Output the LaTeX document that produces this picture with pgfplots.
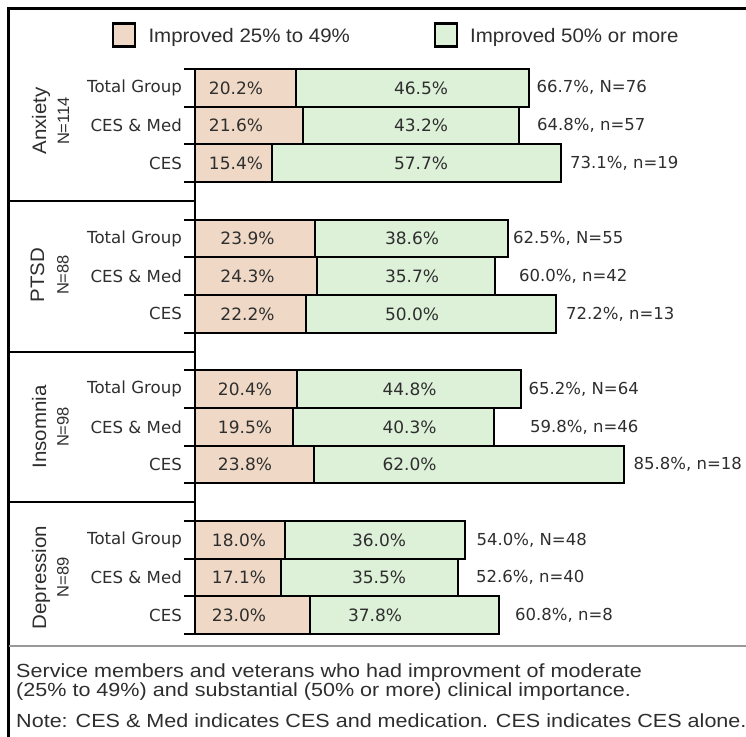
\documentclass[border=0pt]{standalone}
\usepackage{pgfplots}
\pgfplotsset{compat=1.18}
\usepackage{pgfplotstable}
\usepackage{fontspec}
\setmainfont{Liberation Sans}
\newfontfamily\chartfont{DejaVu Sans}
\newfontfamily\capfont[FakeStretch=1.135]{Liberation Sans}
\newfontfamily\legfont[FakeStretch=1.05]{Liberation Sans}
\definecolor{tanc}{HTML}{EFD9C6}
\definecolor{greenc}{HTML}{DDF0D8}
\definecolor{txt}{HTML}{2E2E2E}

% y: bar index (gaps at 3, 7, 11); a: improved 25-49%; b: improved 50%+; tot = a+b
% xa, xb: label positions (percent units)
\pgfplotstableread{
y a b tot xa xb
0 20.2 46.5 66.7 8.2 45.2
1 21.6 43.2 64.8 8.2 45.2
2 15.4 57.7 73.1 8.2 45.2
4 23.9 38.6 62.5 10.5 43.4
5 24.3 35.7 60.0 10.5 43.4
6 22.2 50.0 72.2 10.5 43.4
8 20.4 44.8 65.2 10.0 42.9
9 19.5 40.3 59.8 10.0 42.9
10 23.8 62.0 85.8 10.0 42.9
12 18.0 36.0 54.0 8.8 36.8
13 17.1 35.5 52.6 8.8 36.8
14 23.0 37.8 60.8 8.8 36.0
}\bars

\pgfplotstableread[col sep=semicolon]{
y;xt;lab
0;68.3;66.7\%, N=76
1;68.4;64.8\%, n=57
2;75.0;73.1\%, n=19
4;63.6;62.5\%, N=55
5;64.8;60.0\%, n=42
6;74.2;72.2\%, n=13
8;66.7;65.2\%, N=64
9;67.0;59.8\%, n=46
10;87.7;85.8\%, n=18
12;56.3;54.0\%, N=48
13;56.2;52.6\%, n=40
14;64.0;60.8\%, n=8
}\totlab

\begin{document}
\begin{tikzpicture}[x=1pt,y=1pt]
\begin{axis}[
  at={(195pt,102pt)}, anchor=south west,
  scale only axis, width=500pt, height=565pt,
  xmin=0, xmax=100, ymin=-0.5, ymax=14.5, y dir=reverse,
  clip=false,
  /pgf/number format/assume math mode=true,
  axis x line=none, axis y line*=left,
  y axis line style={line width=2pt, black},
  xtick=\empty,
  ytick={0,1,2,4,5,6,8,9,10,12,13,14},
  yticklabels={Total Group,CES \& Med,CES,Total Group,CES \& Med,CES,Total Group,CES \& Med,CES,Total Group,CES \& Med,CES},
  yticklabel style={font=\chartfont\fontsize{16.6}{20}\selectfont, text=txt, inner sep=0pt, xshift=-13pt},
  major tick length=0pt,
  extra y ticks={-0.5,0.5,...,14.5},
  extra y tick labels={},
  extra y tick style={tick align=outside, major tick length=11pt, tick style={line width=2pt, black}},
  bar width=37.67pt,
  every node near coord/.append style={font=\chartfont\fontsize{17}{20}\selectfont, text=txt},
]
\addplot[xbar, bar shift=0pt, fill=greenc, draw=black, line width=2pt] table[x=tot, y=y] {\bars};
\addplot[xbar, bar shift=0pt, fill=tanc, draw=black, line width=2pt] table[x=a, y=y] {\bars};
\addplot[only marks, mark=*, mark size=0pt, mark options={draw=none, fill=none},
  point meta=explicit,
  nodes near coords={\pgfmathprintnumber[fixed,fixed zerofill,precision=1]{\pgfplotspointmeta}\%},
  nodes near coords style={anchor=center}]
  table[x=xa, y=y, meta=a] {\bars};
\addplot[only marks, mark=*, mark size=0pt, mark options={draw=none, fill=none},
  point meta=explicit,
  nodes near coords={\pgfmathprintnumber[fixed,fixed zerofill,precision=1]{\pgfplotspointmeta}\%},
  nodes near coords style={anchor=center}]
  table[x=xb, y=y, meta=b] {\bars};
\addplot[only marks, mark=*, mark size=0pt, mark options={draw=none, fill=none},
  point meta=explicit symbolic,
  nodes near coords,
  nodes near coords style={anchor=west, inner sep=0pt, font=\chartfont\fontsize{16.5}{20}\selectfont}]
  table[x=xt, y=y, meta=lab] {\totlab};
% group separators in the left column
\draw[line width=2pt, black] (axis cs:0,3) -- ++(-187pt,0pt);
\draw[line width=2pt, black] (axis cs:0,7) -- ++(-187pt,0pt);
\draw[line width=2pt, black] (axis cs:0,11) -- ++(-187pt,0pt);
\end{axis}

% frame
\draw[line width=3pt, black] (7,727.5) -- (760,727.5);
\draw[line width=3pt, black] (8.5,729) -- (8.5,-10);
% caption separator
\draw[line width=2pt, black!40] (8.5,90) -- (760,90);

% legend
\draw[line width=2.5pt, black, fill=tanc] (113,689.5) rectangle (135,712.5);
\node[anchor=base west, inner sep=0pt, text=txt] at (148.3,693.7) {\legfont\fontsize{19.5}{22}\selectfont Improved 25\% to 49\%};
\draw[line width=2.5pt, black, fill=greenc] (435,689.5) rectangle (457,712.5);
\node[anchor=base west, inner sep=0pt, text=txt] at (470,693.7) {\legfont\fontsize{19.5}{22}\selectfont Improved 50\% or more};

% group labels
\begin{scope}[every node/.style={rotate=90, anchor=base, inner sep=0pt, text=txt}]
\node at (46,615) {\legfont\fontsize{19.5}{22}\selectfont Anxiety};
\node at (69,615) {\fontsize{16.5}{20}\selectfont N=114};
\node at (44,461) {\legfont\fontsize{19.5}{22}\selectfont PTSD};
\node at (68.5,461) {\fontsize{16.5}{20}\selectfont N=88};
\node at (46,309) {\legfont\fontsize{19.5}{22}\selectfont Insomnia};
\node at (68.5,309) {\fontsize{16.5}{20}\selectfont N=98};
\node at (46,158.5) {\legfont\fontsize{19.5}{22}\selectfont Depression};
\node at (68.5,158.5) {\fontsize{16.5}{20}\selectfont N=89};
\end{scope}

% caption
\begin{scope}[every node/.style={anchor=base west, inner sep=0pt, text=txt}]
\node at (16,58.3) {\capfont\fontsize{19}{22}\selectfont Service members and veterans who had improvment of moderate};
\node at (16,39.3) {\capfont\fontsize{19}{22}\selectfont (25\% to 49\%) and substantial (50\% or more) clinical importance.};
\node at (16,9) {\capfont\fontsize{19}{22}\selectfont Note: CES \& Med indicates CES and medication. CES indicates CES alone.};
\end{scope}

\pgfresetboundingbox
\useasboundingbox (0,0) rectangle (746,736);
\end{tikzpicture}
\end{document}
